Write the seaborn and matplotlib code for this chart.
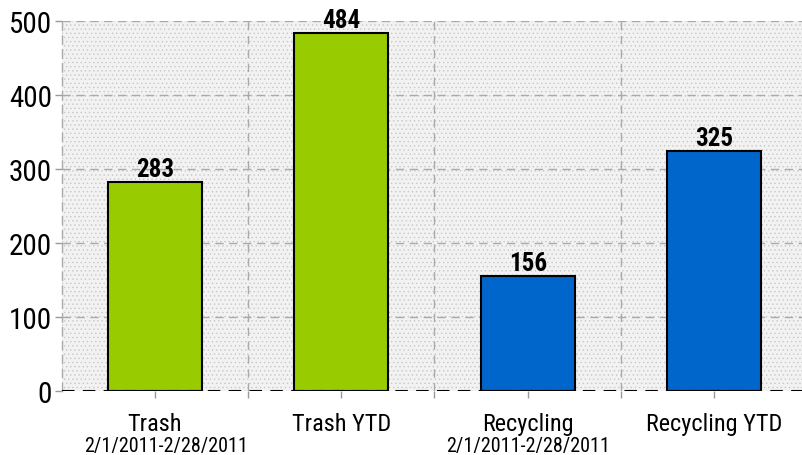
import matplotlib
matplotlib.use("Agg")
import matplotlib.pyplot as plt
import seaborn as sns
import pandas as pd
from matplotlib import font_manager

categories = ["Trash", "Trash YTD", "Recycling", "Recycling YTD"]
sublabels = ["2/1/2011-2/28/2011", "", "2/1/2011-2/28/2011", ""]
values = [283, 484, 156, 325]
colors = ["#99cc00", "#99cc00", "#0066cc", "#0066cc"]
yticks = [0, 100, 200, 300, 400, 500]

sns.set_style("white")
names = {f.name for f in font_manager.fontManager.ttflist}
fam = [f for f in ["Liberation Sans Narrow", "Roboto Condensed", "Liberation Sans"] if f in names] + ["DejaVu Sans"]
plt.rcParams["font.family"] = fam
plt.rcParams["text.color"] = "black"
plt.rcParams["ytick.labelcolor"] = "black"
plt.rcParams["hatch.linewidth"] = 0.5

df = pd.DataFrame({"cat": categories, "val": values})

fig = plt.figure(figsize=(8.02, 4.56), dpi=100)
ax = fig.add_axes([61.5 / 802, 1 - 392 / 456, 1 - 61.5 / 802, 370 / 456])
ax.set_facecolor("#f2f2f2")
ax.patch.set_hatch("....")
ax.patch.set_edgecolor("#c8c8c8")

sns.barplot(data=df, x="cat", y="val", hue="cat", palette=colors, legend=False,
            saturation=1, width=0.505, edgecolor="black", linewidth=1.5, ax=ax, zorder=3)

ax.set_xlim(-0.5, (802 - 61.5) / 186.5 - 0.5)
ax.set_ylim(0, 500)
ax.set_yticks(yticks)
ax.set_yticklabels([str(t) for t in yticks], fontsize=21, color="black")

ax.set_xticks(range(len(categories)))
ax.set_xticklabels([""] * len(categories))
ax.set_xlabel("")
ax.set_ylabel("")

sub_shift = [11, 0, 0, 0]
for i, (c, s) in enumerate(zip(categories, sublabels)):
    ax.annotate(c, xy=(i, 0), xycoords=("data", "axes fraction"), xytext=(0, -21),
                textcoords="offset pixels", ha="center", va="top", fontsize=17.5, color="black")
    if s:
        ax.annotate(s, xy=(i, 0), xycoords=("data", "axes fraction"), xytext=(sub_shift[i], -45),
                    textcoords="offset pixels", ha="center", va="top", fontsize=14.5, color="black")

for i, v in enumerate(values):
    ax.annotate(str(v), xy=(i, v), xytext=(0, 1), textcoords="offset pixels",
                ha="center", va="bottom", fontsize=18, fontweight="bold", color="black",
                annotation_clip=False, zorder=5)

for t in yticks[1:]:
    ax.axhline(t, color="#aaaaaa", linestyle=(0, (6, 4)), linewidth=1, zorder=1)
for b in [0.5, 1.5, 2.5]:
    ax.axvline(b, color="#aaaaaa", linestyle=(0, (6, 4)), linewidth=1, zorder=1)
ax.axhline(0, color="black", linestyle=(0, (6, 4)), linewidth=1.5, zorder=4)

for side in ["top", "right", "bottom"]:
    ax.spines[side].set_visible(False)
ax.spines["left"].set_color("#aaaaaa")
ax.spines["left"].set_linestyle((0, (6, 4)))
ax.spines["left"].set_linewidth(1)

ax.tick_params(axis="y", length=5, width=1, color="#999999", pad=2, left=True)
ax.set_xticks([0.5, 1.5, 2.5], minor=True)
ax.tick_params(axis="x", which="both", bottom=True, length=5, color="#999999", width=1)

fig.savefig("out.png", dpi=100)
